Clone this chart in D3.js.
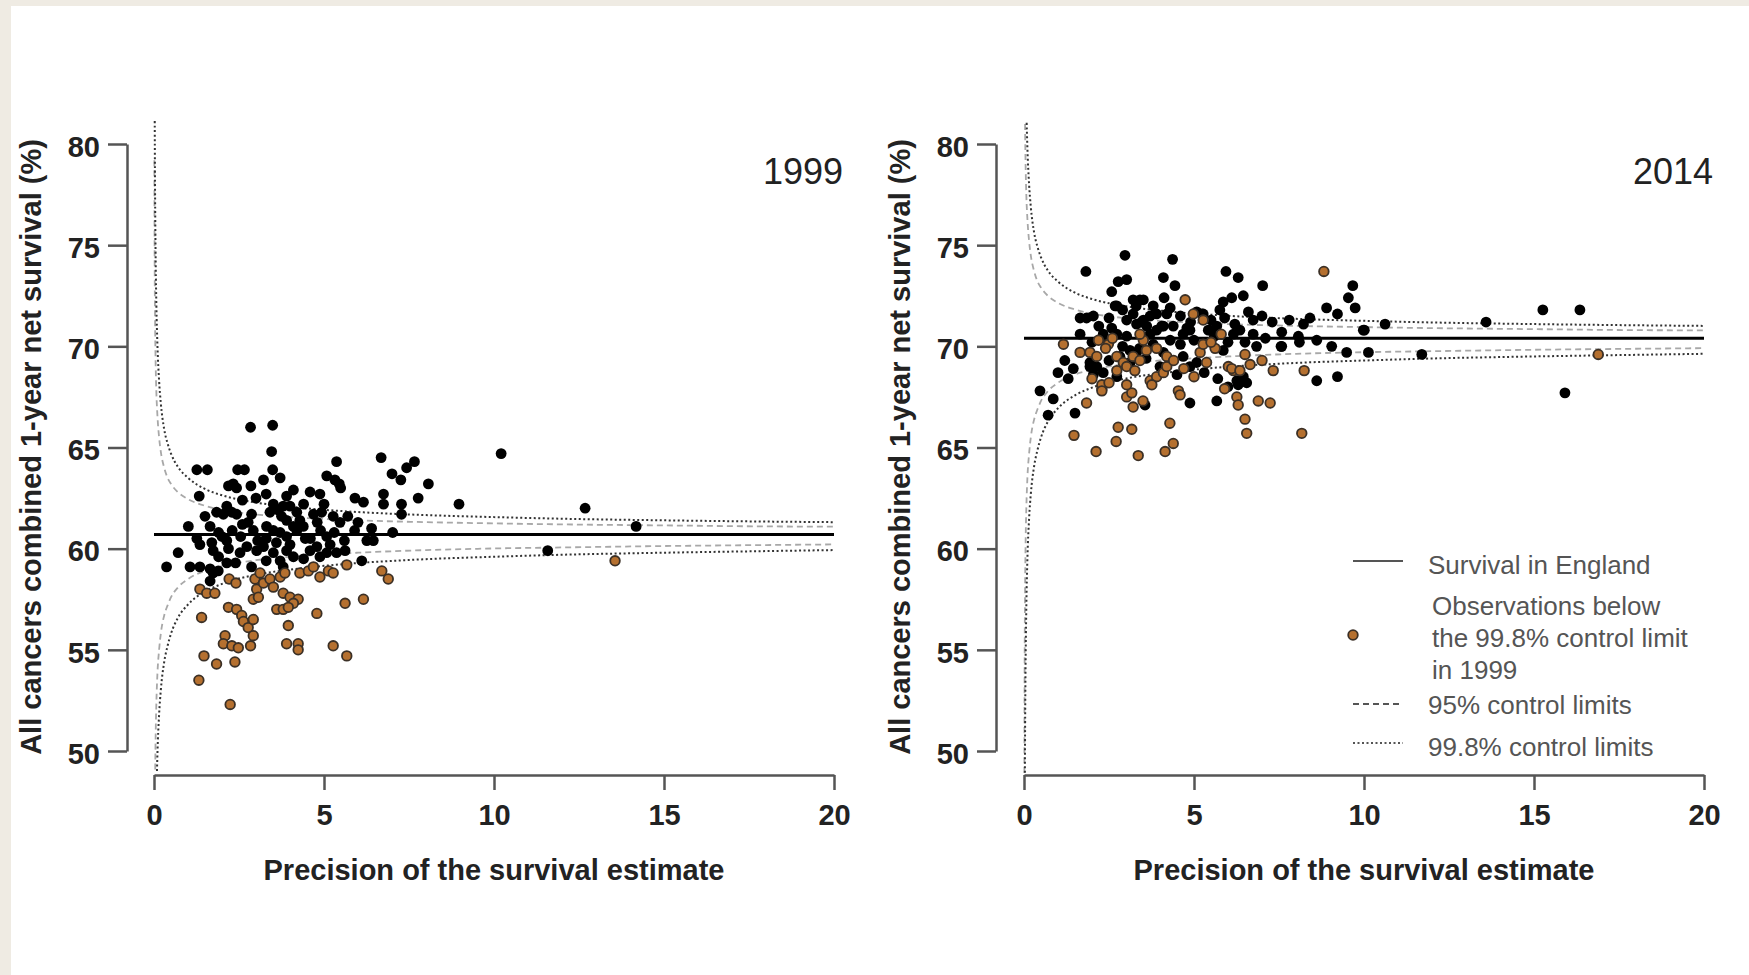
<!DOCTYPE html>
<html>
<head>
<meta charset="utf-8">
<script src="https://cdn.jsdelivr.net/npm/d3@7"></script>
<style>
  body { margin: 0; background: #efebe3; }
  svg { display: block; }
  text { font-family: "Liberation Sans", Arial, sans-serif; }
</style>
</head>
<body>
<script>
// values
var years = ["1999", "2014"];
var englandSurvival = [60.7, 70.4];
var xTicks = [0, 5, 10, 15, 20];
var yTicks = [50, 55, 60, 65, 70, 75, 80];

// control limits: distance from the England line at a given precision
var limitPrecision = [0.01, 0.015, 0.02, 0.025, 0.03, 0.04, 0.05, 0.07, 0.1, 0.15, 0.2, 0.3, 0.4, 0.5, 0.7, 1, 1.5, 2, 3, 4, 5, 6, 8, 10, 12, 15, 18, 20];
var upper998 = [30.0, 24.5, 21.2, 19.0, 17.3, 15.0, 13.4, 11.3, 9.4, 7.6, 6.5, 5.2, 4.5, 4.0, 3.35, 2.8, 2.25, 1.94, 1.58, 1.37, 1.22, 1.11, 0.96, 0.86, 0.78, 0.7, 0.64, 0.61];
var lower998 = [34.6, 28.2, 24.5, 21.9, 20.0, 17.3, 15.5, 13.1, 10.9, 8.9, 7.7, 6.3, 5.5, 4.9, 4.13, 3.46, 2.82, 2.44, 1.99, 1.74, 1.55, 1.41, 1.22, 1.1, 1.0, 0.9, 0.82, 0.77];
var upper95 = [18.5, 15.2, 13.2, 11.8, 10.8, 9.3, 8.3, 7.0, 5.9, 4.8, 4.1, 3.3, 2.8, 2.5, 2.1, 1.75, 1.42, 1.22, 0.99, 0.86, 0.77, 0.7, 0.61, 0.55, 0.5, 0.45, 0.4, 0.39];
var lower95 = [22.0, 17.9, 15.5, 13.9, 12.7, 11.0, 9.8, 8.3, 6.9, 5.7, 4.9, 4.0, 3.5, 3.1, 2.62, 2.2, 1.79, 1.56, 1.27, 1.1, 0.99, 0.9, 0.77, 0.69, 0.64, 0.57, 0.52, 0.49];

// [precision, survival]
var black1999 = [[2.84,66.0],[3.49,66.1],[3.46,64.8],[1.26,63.9],[1.57,63.9],[1.33,62.6],[2.46,63.9],[2.66,63.9],[2.19,63.1],[2.33,63.2],
  [2.43,63.0],[2.85,63.1],[3.22,63.4],[3.49,63.9],[3.71,63.5],[4.10,62.9],[4.59,62.8],[4.88,62.7],[5.37,64.3],[5.08,63.6],
  [5.32,63.4],[5.45,63.2],[5.49,63.0],[5.91,62.5],[6.16,62.3],[6.68,64.5],[7.00,63.7],[7.26,63.4],[7.43,64.0],[7.66,64.3],
  [8.07,63.2],[7.77,62.5],[6.75,62.7],[6.75,62.2],[7.28,62.2],[7.28,61.7],[8.97,62.2],[10.21,64.7],[7.02,60.8],[6.26,60.4],
  [6.45,60.4],[6.11,59.4],[5.62,59.9],[5.37,59.8],[5.08,60.6],[5.18,60.2],[4.79,60.1],[4.59,59.9],[4.29,61.4],[4.39,61.1],
  [4.69,61.7],[4.93,61.8],[5.27,61.6],[5.47,61.3],[4.00,62.1],[4.20,61.8],[3.51,62.2],[3.66,61.9],[3.80,62.1],[3.41,61.8],
  [3.75,61.6],[3.90,61.4],[4.10,61.1],[3.31,61.1],[3.51,60.9],[3.71,60.8],[2.87,61.7],[2.77,61.3],[2.92,60.9],[2.14,62.1],
  [2.29,61.8],[2.43,61.7],[1.84,61.8],[2.04,61.7],[1.01,61.1],[1.65,61.1],[0.71,59.8],[0.37,59.1],[1.26,60.5],[1.35,60.2],
  [1.74,59.9],[2.14,60.4],[2.19,60.0],[1.06,59.1],[1.35,59.1],[1.65,59.0],[2.53,59.8],[2.73,60.1],[3.02,59.9],[3.22,60.1],
  [3.51,59.8],[3.71,59.4],[3.90,59.9],[4.10,59.6],[1.74,58.8],[1.65,58.4],[1.89,58.9],[2.14,59.3],[2.87,59.1],[4.88,59.6],
  [5.08,59.8],[3.80,59.1],[12.68,62.0],[14.18,61.1],[11.58,59.9],[4.45,60.5],[3.05,60.4],[2.55,60.6],[4.0,60.2],[1.9,60.8],
  [3.6,60.3],[3.9,60.6],[4.2,60.9],[4.6,60.5],[4.9,60.9],[5.3,60.8],[5.6,60.4],[5.9,60.9],[3.3,60.5],[2.6,61.2],
  [2.3,60.9],[2.0,60.6],[1.7,60.3],[1.5,61.6],[2.6,62.4],[3.0,62.5],[3.3,62.7],[3.9,62.6],[4.4,62.2],[5.0,62.2],
  [5.7,61.6],[6.0,61.3],[6.4,61.0],[4.8,61.3],[4.4,59.5],[3.3,59.4],[2.4,59.3],[1.9,59.6]];
var brown1999 = [[1.35,58.0],[1.55,57.8],[1.79,57.8],[2.21,58.5],[2.41,58.3],[2.19,57.1],[2.43,57.0],[2.58,56.7],[2.63,56.4],[2.77,56.1],
  [2.92,56.5],[2.97,58.5],[3.02,58.0],[2.92,57.5],[3.22,58.3],[3.41,58.5],[3.51,58.1],[3.71,58.6],[3.85,58.8],[3.80,57.8],
  [4.00,57.6],[4.24,57.5],[4.10,57.3],[3.61,57.0],[3.80,57.0],[3.95,57.1],[3.95,56.2],[4.29,58.8],[4.54,58.9],[4.69,59.1],
  [4.88,58.6],[5.13,58.9],[5.27,58.8],[5.67,59.2],[6.70,58.9],[6.89,58.5],[6.16,57.5],[5.62,57.3],[4.79,56.8],[1.40,56.6],
  [2.09,55.7],[2.04,55.3],[2.29,55.2],[2.48,55.1],[2.92,55.7],[2.84,55.2],[3.90,55.3],[4.24,55.3],[4.24,55.0],[5.27,55.2],
  [5.67,54.7],[1.47,54.7],[1.84,54.3],[2.38,54.4],[1.32,53.5],[2.24,52.3],[3.12,58.8],[3.07,57.6],[13.56,59.4]];
var black2014 = [[1.82,73.7],[2.97,74.5],[4.37,74.3],[5.94,73.7],[6.30,73.4],[7.02,73.0],[4.10,73.4],[4.44,73.0],[2.77,73.2],[3.02,73.3],
  [2.58,72.7],[2.73,72.0],[3.21,72.3],[3.41,72.3],[3.51,72.3],[4.12,72.4],[5.86,72.2],[6.11,72.4],[6.45,72.5],[1.65,71.4],
  [1.84,71.4],[2.04,71.5],[2.58,70.9],[3.90,71.6],[4.20,71.6],[5.08,71.7],[5.23,71.6],[5.76,71.8],[0.47,67.8],[0.71,66.6],
  [0.86,67.4],[1.30,68.4],[1.45,68.9],[1.50,66.7],[3.56,67.1],[4.88,67.2],[5.67,67.3],[2.04,68.6],[1.94,69.0],[6.30,68.1],
  [6.55,68.2],[7.58,70.0],[4.68,70.6],[4.88,70.8],[5.47,70.8],[5.67,71.0],[6.16,70.6],[6.35,70.8],[6.74,70.6],[6.84,70.0],
  [3.59,69.4],[4.10,69.7],[4.29,69.3],[4.68,69.5],[4.88,69.0],[5.08,69.2],[5.86,69.8],[6.45,68.5],[6.26,68.3],[1.94,69.2],
  [2.14,69.0],[2.33,68.7],[2.73,68.5],[3.12,69.8],[3.31,69.7],[3.71,70.6],[3.90,70.8],[4.10,71.0],[3.51,71.3],[3.71,71.5],
  [3.02,71.3],[3.31,71.1],[2.73,70.6],[3.02,70.5],[1.65,70.6],[2.33,70.6],[2.68,72.0],[3.21,71.6],[3.46,71.2],[3.61,71.0],
  [4.05,71.0],[4.39,71.0],[4.79,70.9],[5.27,71.6],[5.42,70.8],[2.82,69.5],[3.12,69.2],[9.67,73.0],[9.54,72.4],[9.74,71.9],
  [8.90,71.9],[9.22,71.6],[8.41,71.4],[8.22,71.1],[10.62,71.1],[10.01,70.8],[13.59,71.2],[15.26,71.8],[16.35,71.8],[15.91,67.7],
  [7.56,70.0],[8.10,70.2],[8.61,70.3],[9.05,70.0],[9.49,69.7],[10.13,69.7],[11.70,69.6],[8.61,68.3],[9.22,68.5],[6.74,71.3],
  [7.58,70.7],[8.07,70.5],[9.98,70.8],
  [2.2,71.0],[2.5,71.4],[2.9,71.8],[3.3,72.0],[3.8,72.0],[4.3,71.9],[4.6,71.5],[4.9,71.2],[5.5,71.3],[5.9,71.4],
  [6.2,71.1],[6.6,71.7],[7.0,71.5],[7.3,71.2],[7.8,71.3],[2.0,70.2],[2.5,70.2],[2.9,70.0],[3.4,69.9],[3.8,70.1],
  [4.3,70.3],[4.6,70.1],[5.0,70.3],[5.6,70.5],[6.0,70.2],[6.5,70.2],[7.1,70.4],[4.0,69.0],[4.5,68.6],[5.3,68.7],
  [5.7,68.4],[6.0,68.0],[2.5,69.3],[1.2,69.3],[1.0,68.7]];
var brown2014 = [[1.47,65.6],[2.12,64.8],[2.71,65.3],[2.77,66.0],[3.17,65.9],[3.36,64.6],[4.15,64.8],[4.39,65.2],[4.29,66.2],[1.84,67.2],
  [2.29,67.9],[3.02,67.5],[3.17,67.7],[3.21,67.0],[4.54,67.8],[4.59,67.6],[6.26,67.5],[6.30,67.1],[6.50,66.4],[6.55,65.7],
  [6.89,67.3],[7.24,67.2],[1.16,70.1],[1.65,69.7],[1.94,69.7],[2.14,69.5],[4.74,72.3],[4.98,71.6],[5.27,71.3],[2.73,69.5],
  [2.92,69.2],[3.21,69.5],[3.41,69.3],[2.73,68.8],[3.02,69.0],[3.26,68.8],[3.71,68.3],[3.90,68.5],[4.10,68.7],[3.76,68.1],
  [4.20,69.0],[4.20,69.5],[5.18,69.7],[5.37,69.2],[5.27,70.1],[6.01,69.0],[6.16,68.8],[6.65,69.1],[3.51,70.3],[3.41,70.6],
  [2.19,70.3],[7.33,68.8],[8.82,73.7],[16.89,69.6],[8.24,68.8],[8.17,65.7],[6.11,68.9],[6.35,68.8],[5.62,69.9],[2.48,70.1],
  [2.29,68.1],[2.29,67.8],[3.02,68.1],
  [2.4,69.9],[2.6,70.4],[3.6,69.8],[3.9,69.9],[4.4,69.3],[4.7,68.9],[5.0,68.5],[5.5,70.2],[5.8,70.6],[6.5,69.6],
  [7.0,69.3],[2.0,68.4],[2.5,68.2],[3.5,67.3],[5.9,67.9]];

var legendItems = ["Survival in England", ["Observations below", "the 99.8% control limit", "in 1999"], "95% control limits", "99.8% control limits"];

var svg = d3.select("body").append("svg").attr("width", 1749).attr("height", 975);
svg.append("rect").attr("x", 11).attr("y", 6).attr("width", 1738).attr("height", 969).attr("fill", "white");

var panels = [
  {year: years[0], mean: englandSurvival[0], black: black1999, brown: brown1999, x0: 154, axisX: 127},
  {year: years[1], mean: englandSurvival[1], black: black2014, brown: brown2014, x0: 1024, axisX: 996}
];

var brownFill = "#b5702f", brownEdge = "#3b3026";

panels.forEach(function (p, i) {
  var x = d3.scaleLinear().domain([0, 20]).range([p.x0, p.x0 + 680]);
  var y = d3.scaleLinear().domain([50, 80]).range([751, 144]);
  var g = svg.append("g");

  //eixos
  var xAxis = g.append("g").attr("transform", "translate(0,775)")
               .call(d3.axisBottom(x).tickValues(xTicks).tickSize(15).tickSizeOuter(0).tickPadding(14));
  var yAxis = g.append("g").attr("transform", "translate(" + p.axisX + ",0)")
               .call(d3.axisLeft(y).tickValues(yTicks).tickSize(19).tickSizeOuter(0).tickPadding(8));
  [xAxis, yAxis].forEach(function (a) {
    a.selectAll("path, line").attr("stroke", "#555").attr("stroke-width", 2.5);
    a.selectAll("text").attr("font-size", 29).attr("font-weight", "bold").attr("fill", "#222");
  });
  yAxis.selectAll("text").attr("dy", "0.42em");

  g.append("text").attr("x", (x(0) + x(20)) / 2).attr("y", 880)
   .attr("text-anchor", "middle").attr("font-size", 29).attr("font-weight", "bold").attr("fill", "#222")
   .text("Precision of the survival estimate");
  g.append("text").attr("transform", "translate(" + (p.axisX - 86) + ",447) rotate(-90)")
   .attr("text-anchor", "middle").attr("font-size", 29).attr("font-weight", "bold").attr("fill", "#222")
   .text("All cancers combined 1-year net survival (%)");
  g.append("text").attr("x", x(20) + 9).attr("y", 184).attr("text-anchor", "end")
   .attr("font-size", 36).attr("fill", "#222").text(p.year);

  //limites de controle
  svg.append("clipPath").attr("id", "clip" + i).append("rect")
     .attr("x", p.axisX + 1).attr("y", 121).attr("width", 735).attr("height", 652);
  var lines = g.append("g").attr("clip-path", "url(#clip" + i + ")");
  var curve = function (offsets, sign) {
    return d3.line().curve(d3.curveMonotoneX)
             .x(function (d, k) { return x(limitPrecision[k]); })
             .y(function (d) { return y(p.mean + sign * d); })(offsets);
  };
  [[upper95, 1], [lower95, -1]].forEach(function (c) {
    lines.append("path").attr("d", curve(c[0], c[1])).attr("fill", "none")
         .attr("stroke", "#a8a8a8").attr("stroke-width", 1.8).attr("stroke-dasharray", "6,4");
  });
  [[upper998, 1], [lower998, -1]].forEach(function (c) {
    lines.append("path").attr("d", curve(c[0], c[1])).attr("fill", "none")
         .attr("stroke", "#333").attr("stroke-width", 2).attr("stroke-dasharray", "2,2.5");
  });
  g.append("line").attr("x1", x(0)).attr("x2", x(20)).attr("y1", y(p.mean)).attr("y2", y(p.mean))
   .attr("stroke", "black").attr("stroke-width", 3);

  //pontos
  g.selectAll("circle.b").data(p.black).enter().append("circle").attr("class", "b")
   .attr("cx", function (d) { return x(d[0]); }).attr("cy", function (d) { return y(d[1]); })
   .attr("r", 5.4).attr("fill", "#000");
  g.selectAll("circle.o").data(p.brown).enter().append("circle").attr("class", "o")
   .attr("cx", function (d) { return x(d[0]); }).attr("cy", function (d) { return y(d[1]); })
   .attr("r", 4.8).attr("fill", brownFill).attr("stroke", brownEdge).attr("stroke-width", 1.8);
});

//legenda
var lg = svg.append("g").attr("font-size", 26).attr("fill", "#555");
lg.append("line").attr("x1", 1353).attr("x2", 1403).attr("y1", 561).attr("y2", 561).attr("stroke", "#555").attr("stroke-width", 2);
lg.append("text").attr("x", 1428).attr("y", 574).text(legendItems[0]);
lg.append("circle").attr("cx", 1353).attr("cy", 635).attr("r", 4.8).attr("fill", brownFill).attr("stroke", brownEdge).attr("stroke-width", 1.8);
legendItems[1].forEach(function (t, k) {
  lg.append("text").attr("x", 1432).attr("y", 615 + k * 32).text(t);
});
lg.append("line").attr("x1", 1353).attr("x2", 1403).attr("y1", 704).attr("y2", 704).attr("stroke", "#555").attr("stroke-width", 2).attr("stroke-dasharray", "6,4");
lg.append("text").attr("x", 1428).attr("y", 714).text(legendItems[2]);
lg.append("line").attr("x1", 1353).attr("x2", 1403).attr("y1", 743).attr("y2", 743).attr("stroke", "#555").attr("stroke-width", 2).attr("stroke-dasharray", "2,2.5");
lg.append("text").attr("x", 1428).attr("y", 756).text(legendItems[3]);
</script>
</body>
</html>
